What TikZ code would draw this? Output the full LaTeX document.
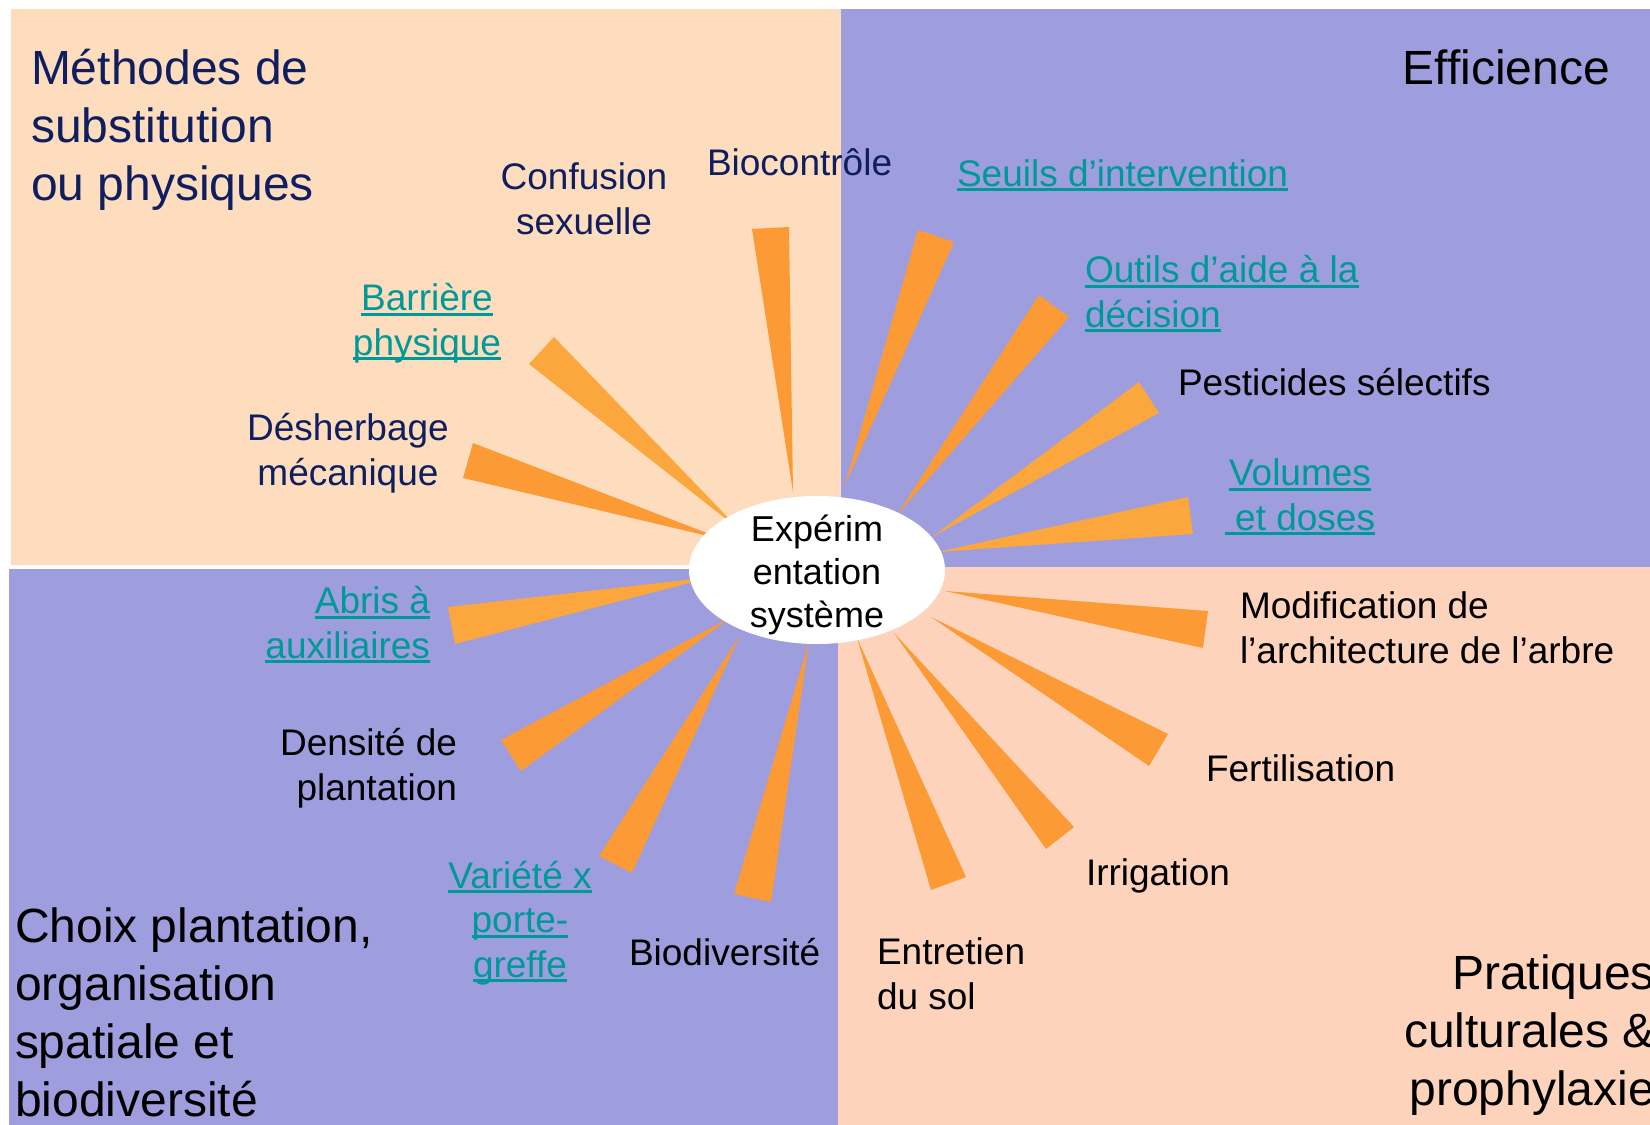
\documentclass[tikz,border=0pt]{standalone}
\usepackage{fontspec}
\setmainfont{Liberation Sans}
\usetikzlibrary{shapes.geometric}
\definecolor{peachA}{RGB}{253,221,189}
\definecolor{peachB}{RGB}{253,211,188}
\definecolor{lav}{RGB}{158,157,221}
\definecolor{rayD}{RGB}{252,154,54}
\definecolor{rayL}{RGB}{252,166,62}
\definecolor{navy}{RGB}{14,30,94}
\definecolor{linkteal}{RGB}{0,153,153}
\newcommand\myul[1]{\leavevmode\setbox0=\hbox{#1}\rlap{\rule[-0.14em]{\wd0}{0.08em}}\box0}
\begin{document}
\begin{tikzpicture}[x=1pt,y=-1pt,
  lbl/.style={inner sep=0pt, outer sep=0pt, font=\fontsize{37}{44.5}\selectfont},
  ttl/.style={inner sep=0pt, outer sep=0pt, font=\fontsize{48}{58}\selectfont},
  lnk/.style={lbl, text=linkteal},
  dark/.style={text=navy},
  rayd/.style={fill=rayD},
  rayl/.style={fill=rayL}]
\useasboundingbox (0,0) rectangle (1650,1125);
\fill[white] (0,0) rectangle (1650,1125);
\clip (0,0) rectangle (1650,1125);
% quadrants
\fill[peachA] (11,9) rectangle (842,565);
\fill[lav] (841,9) rectangle (1650,567);
\fill[peachB] (837,567) rectangle (1650,1125);
\fill[lav] (9,569) rectangle (838,1125);
% rays
\fill[rayd] (793,492) -- (752,229) -- (789,227) -- cycle;
\fill[rayl] (740,530) -- (529,364) -- (554,337) -- cycle;
\fill[rayd] (725,540) -- (473,443) -- (463,478) -- cycle;
\fill[rayd] (845,485) -- (918,230) -- (954,242) -- cycle;
\fill[rayd] (897,515) -- (1039,295) -- (1069,317) -- cycle;
\fill[rayl] (932,537) -- (1139,382) -- (1159,413) -- cycle;
\fill[rayl] (937,552) -- (1188,497) -- (1193,534) -- cycle;
\fill[rayd] (945,591) -- (1208,611) -- (1203,648) -- cycle;
\fill[rayd] (931,617) -- (1168,734) -- (1149,766) -- cycle;
\fill[rayd] (894,633) -- (1074,827) -- (1046,849) -- cycle;
\fill[rayd] (857,638) -- (966,877) -- (931,890) -- cycle;
\fill[rayl] (712,577) -- (448,607) -- (455,644) -- cycle;
\fill[rayd] (733,616) -- (501,740) -- (521,771) -- cycle;
\fill[rayd] (740,635) -- (599,856) -- (632,873) -- cycle;
\fill[rayd] (809,642) -- (734,894) -- (771,902) -- cycle;
% centre
\node[ellipse, fill=white, minimum width=256pt, minimum height=148pt, inner sep=0pt] (hub) at (817,570) {};
\node[anchor=base, align=center, inner sep=0pt, font=\fontsize{36}{43}\selectfont] (hubtext) at (817,627) {Expérim\\entation\\système};
% titles
\node[ttl, dark, anchor=base west, align=left] (t1) at (31,200) {Méthodes de\\substitution\\ou physiques};
\node[ttl, anchor=base east] (t2) at (1610,84) {Efficience};
\node[ttl, anchor=base west, align=left] (t3) at (15,1116) {Choix plantation,\\organisation\\spatiale et\\biodiversité};
\node[ttl, anchor=base east, align=right] (t4) at (1655,1105) {Pratiques\\culturales \&\\prophylaxie};
% labels
\node[lbl, dark, anchor=base, align=center] (l1) at (584,234) {Confusion\\sexuelle};
\node[lbl, dark, anchor=base west] (l2) at (707,175) {Biocontrôle};
\node[lnk, anchor=base, align=center] (l3) at (427,355) {\myul{Barrière}\\\myul{physique}};
\node[lbl, dark, anchor=base, align=center] (l4) at (348,485) {Désherbage\\mécanique};
\node[lnk, anchor=base west] (l5) at (957,186) {\myul{Seuils d’intervention}};
\node[lnk, anchor=base west, align=left] (l6) at (1085,327) {\myul{Outils d’aide à la}\\\myul{décision}};
\node[lbl, anchor=base west] (l7) at (1178,395) {Pesticides sélectifs};
\node[lnk, anchor=base, align=center] (l8) at (1300,530) {\myul{Volumes}\\\myul{\ et doses}};
\node[lbl, anchor=base west, align=left] (l9) at (1240,663) {Modification de\\l’architecture de l’arbre};
\node[lbl, anchor=base west] (l10) at (1206,781) {Fertilisation};
\node[lbl, anchor=base west] (l11) at (1086,885) {Irrigation};
\node[lbl, anchor=base west, align=left] (l12) at (877,1009) {Entretien\\du sol};
\node[lbl, anchor=base west] (l13) at (629,965) {Biodiversité};
\node[lnk, anchor=base, align=center] (l14) at (520,977) {\myul{Variété x}\\\myul{porte-}\\\myul{greffe}};
\node[lbl, anchor=base east, align=right] (l15) at (457,800) {Densité de\\plantation};
\node[lnk, anchor=base east, align=right] (l16) at (430,658) {\myul{Abris à}\\\myul{auxiliaires}};
\end{tikzpicture}
\end{document}
